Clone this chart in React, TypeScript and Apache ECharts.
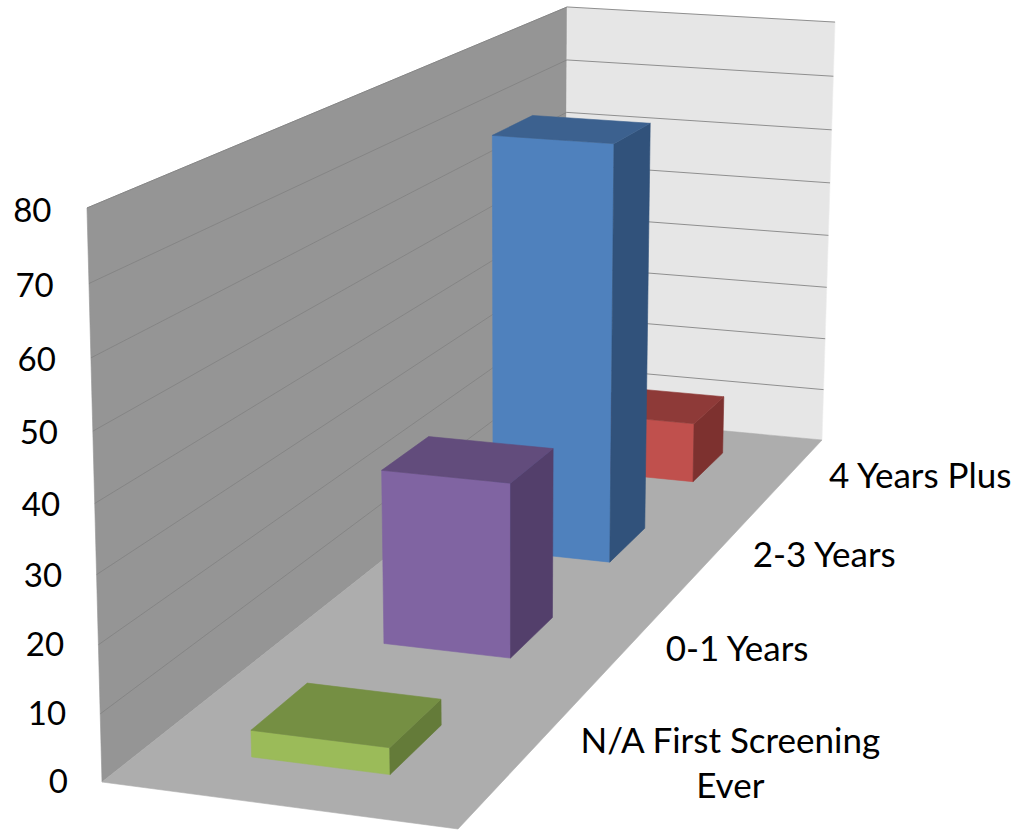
import React, { useEffect, useRef } from "react";
import * as echarts from "echarts";

const categories = ["N/A First Screening\nEver", "0-1 Years", "2-3 Years", "4 Years Plus"];
const values = [4, 28, 71, 11];
const yTicks = [0, 10, 20, 30, 40, 50, 60, 70, 80];

const labelDx = [210, 110, 109, 131];
const palette = [
  { front: "#9bbb59", top: "#758f43", side: "#647b39" },
  { front: "#8064a2", top: "#624c7c", side: "#533f6b" },
  { front: "#4f81bd", top: "#3c618f", side: "#31527b" },
  { front: "#c0504d", top: "#8e3a38", side: "#7d312f" },
];
const FONT = "Lato";
const TICK_FONT_SIZE = 33;
const CATEGORY_FONT_SIZE = 35;

// projective camera: u = across the floor, v = depth, z = fraction of the axis height
function project(u: number, v: number, z: number, leftWall = false): number[] {
  const w = -0.03252 * u + 0.43127 * v - 0.0566 * z + 1;
  const X = 341.11 * u + 706.67 * v - 29 * z + 102;
  const Y = 20.04 * u - 186.6 * v - 585.8 * z + 782;
  const lean = leftWall ? (1 - v) * z * 9.6 : 0;
  return [X / w + lean, Y / w];
}

const poly = (points: number[][], fill: string, stroke = fill) => ({
  type: "polygon",
  shape: { points },
  style: { fill, stroke, lineWidth: 0.6 },
  silent: true,
});

function zOf(api: any, value: number) {
  const base = api.coord([0, 0])[1];
  const full = api.coord([0, 80])[1];
  return (base - api.coord([0, value])[1]) / (base - full);
}

function renderWalls(params: any, api: any) {
  const children: any[] = [];
  if (params.dataIndex === 0) {
    children.push(
      poly([project(0, 0, 0, true), project(0, 0, 1, true), project(0, 1, 1, true), project(0, 1, 0, true)], "#959595"),
      poly([project(0, 1, 0), project(0, 1, 1), project(1, 1, 1), project(1, 1, 0)], "#e6e6e6", "#eeeeee"),
      poly([project(0, 0, 0), project(1, 0, 0), project(1, 1, 0), project(0, 1, 0)], "#adadad")
    );
  }
  const value = api.value(1);
  const z = zOf(api, value);
  const a = project(0, 0, z, true);
  if (value > 0) {
    const b = project(0, 1, z, true);
    const c = project(0, 1, z);
    const d = project(1, 1, z);
    children.push(
      { type: "line", shape: { x1: a[0], y1: a[1], x2: b[0], y2: b[1] }, style: { stroke: "#858585", lineWidth: 1 }, silent: true },
      { type: "line", shape: { x1: c[0], y1: c[1], x2: d[0], y2: d[1] }, style: { stroke: "#8f8f8f", lineWidth: 1 }, silent: true }
    );
  }
  children.push({
    type: "text",
    silent: true,
    style: {
      text: String(value),
      x: a[0] - 35.5 + (1 - z) * 1.5,
      y: a[1] - 2 + z * 3,
      align: "right",
      verticalAlign: "middle",
      fill: "#000000",
      fontFamily: FONT,
      fontSize: TICK_FONT_SIZE,
    },
  });
  return { type: "group", children };
}

function renderBar(_params: any, api: any) {
  const i = api.value(0);
  const z = zOf(api, api.value(1));
  const c = palette[i];
  const v0 = (i + 0.5) / 4 - 0.05;
  const v1 = (i + 0.5) / 4 + 0.05;
  const u0 = 0.3;
  const u1 = 0.7;
  return {
    type: "group",
    children: [
      poly([project(u0, v0, 0), project(u1, v0, 0), project(u1, v0, z), project(u0, v0, z)], c.front),
      poly([project(u1, v0, 0), project(u1, v1, 0), project(u1, v1, z), project(u1, v0, z)], c.side),
      poly([project(u0, v0, z), project(u1, v0, z), project(u1, v1, z), project(u0, v1, z)], c.top),
    ],
  };
}

function renderCategoryLabel(_params: any, api: any) {
  const i = api.value(0);
  const p = project(1, (i + 0.5) / 4, 0);
  return {
    type: "text",
    silent: true,
    style: {
      text: categories[i],
      x: p[0] + labelDx[i],
      y: p[1] - 1,
      align: "center",
      verticalAlign: "middle",
      fill: "#000000",
      fontFamily: FONT,
      fontSize: CATEGORY_FONT_SIZE,
      lineHeight: 45,
    },
  };
}

export default function App() {
  const ref = useRef<HTMLDivElement>(null);
  useEffect(() => {
    const chart = echarts.init(ref.current!, undefined, { renderer: "svg" });
    chart.setOption({
      animation: false,
      backgroundColor: "#ffffff",
      grid: { left: 70, top: 208, width: 900, height: 574, containLabel: false },
      xAxis: { type: "category", data: categories, show: false },
      yAxis: {
        type: "value",
        min: 0,
        max: 80,
        interval: 10,
        splitLine: { show: false },
        axisLine: { show: false },
        axisTick: { show: false },
        axisLabel: { show: false },
      },
      series: [
        {
          type: "custom",
          name: "walls",
          coordinateSystem: "cartesian2d",
          renderItem: renderWalls,
          data: yTicks.map((t) => [0, t]),
          encode: { x: 0, y: 1 },
          silent: true,
          z: 1,
        },
        {
          type: "custom",
          name: "bars",
          coordinateSystem: "cartesian2d",
          renderItem: renderBar,
          // drawn back to front
          data: values.map((v, i) => [i, v]).reverse(),
          encode: { x: 0, y: 1 },
          silent: true,
          z: 2,
        },
        {
          type: "custom",
          name: "labels",
          coordinateSystem: "cartesian2d",
          renderItem: renderCategoryLabel,
          data: categories.map((_, i) => [i, 0]),
          encode: { x: 0, y: 1 },
          silent: true,
          z: 3,
        },
      ],
    });
    return () => chart.dispose();
  }, []);
  return <div ref={ref} style={{ position: "absolute", left: 0, top: 0, width: 1018, height: 830 }} />;
}
